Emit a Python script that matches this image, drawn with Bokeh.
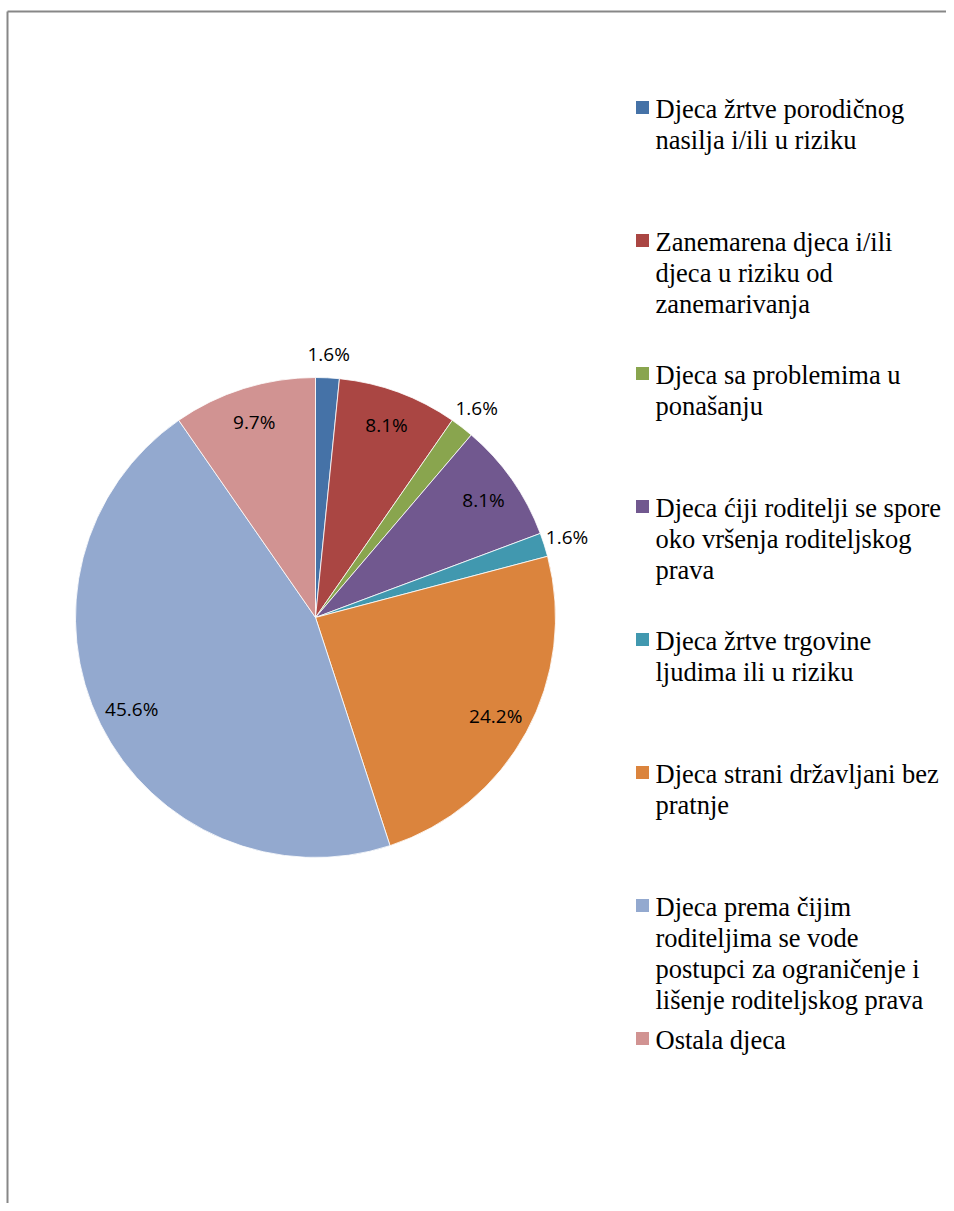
import math
from bokeh.plotting import figure
from bokeh.models import Range1d, ColumnDataSource
from bokeh.core.properties import value
from bokeh.embed import file_html
from bokeh.resources import INLINE

# ---- data ----
categories = [
    ["Djeca žrtve porodičnog", "nasilja i/ili u riziku"],
    ["Zanemarena djeca i/ili", "djeca u riziku od", "zanemarivanja"],
    ["Djeca sa problemima u", "ponašanju"],
    ["Djeca ćiji roditelji se spore", "oko vršenja roditeljskog", "prava"],
    ["Djeca žrtve trgovine", "ljudima ili u riziku"],
    ["Djeca strani državljani bez", "pratnje"],
    ["Djeca prema čijim", "roditeljima se vode", "postupci za ograničenje i", "lišenje roditeljskog prava"],
    ["Ostala djeca"],
]
percents = [1.6, 8.1, 1.6, 8.1, 1.6, 24.2, 45.6, 9.7]
colors = ["#4572A7", "#AA4643", "#89A54E", "#71588F", "#4198AF", "#DB843D", "#93A9CF", "#D19392"]

# ---- layout ----
W, H = 946, 1203
p = figure(width=W, height=H, output_backend="svg", toolbar_location=None,
           x_range=Range1d(0, W), y_range=Range1d(0, H), min_border=0)
p.axis.visible = False
p.grid.visible = False
p.outline_line_color = None
p.background_fill_color = "white"
p.border_fill_color = "white"

def Y(py):
    return H - py

# chart frame (cut at right and bottom like the reference)
p.segment(x0=[7, 7], y0=[Y(11), Y(11)], x1=[W, 7], y1=[Y(11), 0],
          line_color="#878787", line_width=2)

cx, cy, R = 315, Y(617), 240
total = sum(percents)
starts, ends, mids = [], [], []
acc = 0.0
for v in percents:
    a0 = math.pi / 2 - 2 * math.pi * acc / total
    acc += v
    a1 = math.pi / 2 - 2 * math.pi * acc / total
    starts.append(a0)
    ends.append(a1)
    mids.append((a0 + a1) / 2)

src = ColumnDataSource(dict(start=starts, end=ends, color=colors))
p.wedge(x=cx, y=cy, radius=R, start_angle="start", end_angle="end",
        direction="clock", fill_color="color", line_color="white",
        line_width=0.8, source=src)

lx, ly, lt = [], [], []
for v, m in zip(percents, mids):
    r = 0.855 * R if v >= 5 else 1.1 * R
    lx.append(cx + r * math.cos(m))
    ly.append(cy + r * math.sin(m))
    lt.append(f"{v:.1f}%")
p.text(x=lx, y=ly, text=lt, text_align="center", text_baseline="middle",
       text_font=value("Open Sans"), text_font_size="19px", text_color="black")

# legend
mx, my, mt = [], [], []
sq_x, sq_y = [], []
for i, lines in enumerate(categories):
    y0 = Y(108 + 133 * i)
    sq_x.append(642)
    sq_y.append(y0 + 1)
    for j, line in enumerate(lines):
        mx.append(655)
        my.append(y0 - 31 * j)
        mt.append(line)
p.scatter(x=sq_x, y=sq_y, marker="square", size=13, fill_color=colors, line_color=None)
p.text(x=mx, y=my, text=mt, text_align="left", text_baseline="middle",
       text_font=value("Liberation Serif"), text_font_size="26.5px", text_color="black")

open("out.html", "w").write(file_html(p, INLINE))
